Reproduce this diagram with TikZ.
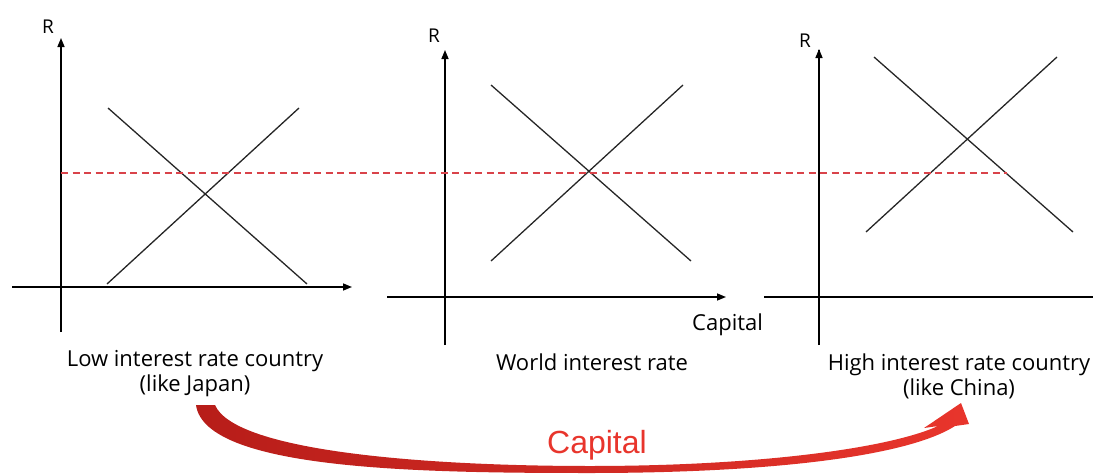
\documentclass[tikz,border=0pt]{standalone}
\usepackage{fontspec}
\setmainfont{Open Sans}
\newfontfamily\flowfont{Liberation Sans}
\usetikzlibrary{arrows.meta}
\definecolor{flowred}{HTML}{E8352C}
\definecolor{flowdark}{HTML}{B71D19}
\definecolor{rateline}{HTML}{D9434A}

\begin{document}
\begin{tikzpicture}[
    x=1pt, y=-1pt,
    axisline/.style={line width=1.5pt, -{Triangle[length=9pt, width=7pt]}},
    plainaxis/.style={line width=1.5pt},
    curveline/.style={line width=1.3pt, color=black!85},
    worldrate/.style={rateline, line width=1.1pt, dash pattern=on 7pt off 4.5pt},
    lbl/.style={font=\fontsize{22}{25}\selectfont, align=center, anchor=base, inner sep=0pt},
    axlbl/.style={font=\fontsize{19}{21}\selectfont, anchor=base, inner sep=0pt},
]
    \useasboundingbox (0,0) rectangle (1093,474);

    % Panel 1: low interest rate country
    \draw[axisline] (61,332) -- (61,38);
    \draw[axisline] (12,287) -- (352,287);
    \draw[curveline] (108,108) -- (307,284);
    \draw[curveline] (107,284) -- (299,108);
    \node[axlbl] (r1) at (48,33) {R};

    % Panel 2: world
    \draw[axisline] (445,345) -- (445,50);
    \draw[axisline] (387,297) -- (726,297);
    \draw[curveline] (491,85) -- (691,261);
    \draw[curveline] (491,261) -- (683,85);
    \node[axlbl] (r2) at (434,42) {R};
    \node[axlbl, anchor=base west, font=\fontsize{22}{25}\selectfont] (cap) at (692,330) {Capital};

    % Panel 3: high interest rate country
    \draw[plainaxis] (819,345) -- (819,50);
    \draw[-{Triangle[length=9pt, width=7pt]}, line width=1.5pt] (819,50) -- (819,49);
    \draw[plainaxis] (764,297) -- (1093,297);
    \draw[curveline] (874,57) -- (1073,232);
    \draw[curveline] (866,232) -- (1057,57);
    \node[axlbl] (r3) at (805,47) {R};

    % World interest rate
    \draw[worldrate] (61,173) -- (1007,173);

    % Labels (base = last line)
    \node[lbl] (japan) at (195,391) {Low interest rate country\\(like Japan)};
    \node[lbl] (world) at (592,370) {World interest rate};
    \node[lbl] (china) at (959,395) {High interest rate country\\(like China)};

    % Capital flow
    \shade[left color=flowdark, right color=flowred]
        (196,405) .. controls (205,470) and (420,473) .. (590,473)
        .. controls (760,473) and (905,458) .. (955,426)
        -- (969,424) -- (961,403) -- (924,428) -- (938,426)
        .. controls (890,448) and (760,466) .. (590,466)
        .. controls (430,466) and (235,452) .. (215,405) -- cycle;
    \node[anchor=base, inner sep=0pt, text=flowred, font=\flowfont\fontsize{32}{36}\selectfont] (flow) at (597,453) {Capital};

\end{tikzpicture}
\end{document}
